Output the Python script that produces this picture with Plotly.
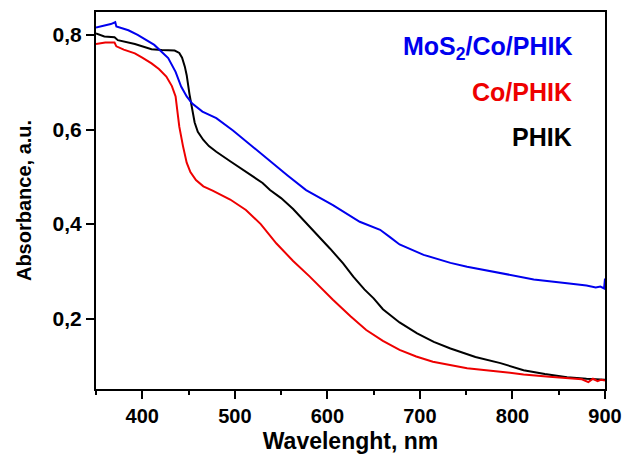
import plotly.graph_objects as go

# Wavelength (nm) / absorbance readings
mos2_x = [350, 360, 366, 370.8, 372, 385, 395, 413, 428, 436, 442, 448, 454, 465, 480, 498, 516, 538, 557, 577,
          606, 635, 647, 657, 668, 678, 704, 733, 751, 787, 823, 859, 880, 890, 895, 899, 900]
mos2_y = [0.816, 0.820, 0.823, 0.827, 0.818, 0.810, 0.800, 0.779, 0.751, 0.722, 0.691, 0.670, 0.655, 0.638, 0.624,
          0.598, 0.569, 0.532, 0.503, 0.472, 0.440, 0.405, 0.396, 0.388, 0.372, 0.357, 0.335, 0.318, 0.310, 0.296,
          0.283, 0.275, 0.270, 0.266, 0.268, 0.264, 0.285]

co_x = [350, 360, 370, 372, 380, 392, 400, 410, 418, 426, 432, 436, 438.5, 440, 444, 448, 452, 458, 466, 476, 495,
        512, 528, 545, 563, 581, 606, 625, 642, 660, 678, 696, 714, 751, 787, 812, 840, 859, 875, 882, 887, 892,
        896, 900]
co_y = [0.781, 0.784, 0.784, 0.776, 0.769, 0.761, 0.752, 0.740, 0.728, 0.712, 0.692, 0.670, 0.630, 0.606, 0.565,
        0.530, 0.510, 0.493, 0.480, 0.471, 0.452, 0.430, 0.400, 0.359, 0.322, 0.289, 0.240, 0.205, 0.176, 0.153,
        0.134, 0.120, 0.109, 0.095, 0.088, 0.082, 0.077, 0.074, 0.072, 0.066, 0.073, 0.068, 0.071, 0.069]

phik_x = [350, 359, 370, 373.6, 392, 410, 421, 435, 440, 443, 446, 448, 451, 454, 456.6, 460, 466, 472, 480, 495,
          509, 520, 530, 538, 550, 563, 575, 588, 603, 617, 628, 640, 650, 660, 678, 697, 715, 733, 760, 787, 812,
          835, 859, 880, 900]
phik_y = [0.803, 0.797, 0.795, 0.789, 0.781, 0.770, 0.768, 0.767, 0.762, 0.752, 0.733, 0.715, 0.675, 0.645, 0.615,
          0.595, 0.578, 0.565, 0.553, 0.533, 0.514, 0.500, 0.487, 0.472, 0.455, 0.432, 0.407, 0.381, 0.348, 0.317,
          0.289, 0.262, 0.243, 0.220, 0.192, 0.169, 0.151, 0.137, 0.119, 0.106, 0.091, 0.083, 0.076, 0.073, 0.071]

labels = ["MoS<sub>2</sub>/Co/PHIK", "Co/PHIK", "PHIK"]
colors = ["#0000ee", "#ee0000", "#000000"]
label_y = [0.7725, 0.6794, 0.5843]
label_x = 867

FONT = "Liberation Sans, Arial, sans-serif"

fig = go.Figure()
for xs, ys, c in [(phik_x, phik_y, colors[2]), (co_x, co_y, colors[1]), (mos2_x, mos2_y, colors[0])]:
    fig.add_trace(go.Scatter(x=xs, y=ys, mode="lines", line=dict(color=c, width=2), showlegend=False))

for lab, c, ly in zip(labels, colors, label_y):
    fig.add_annotation(x=label_x, y=ly, xref="x", yref="y", text=lab, showarrow=False,
                       xanchor="right", yanchor="middle",
                       font=dict(family=FONT, size=25, color=c, weight="bold"))

fig.update_layout(
    width=625, height=454,
    margin=dict(l=96, r=20, t=12, b=65, autoexpand=False),
    paper_bgcolor="white", plot_bgcolor="white",
    separators=", ",
    font=dict(family=FONT, color="black"),
)
fig.update_xaxes(
    automargin=False,
    range=[350, 900], dtick=100, tick0=400,
    showline=True, linecolor="black", linewidth=2, mirror=True,
    ticks="outside", ticklen=8, tickwidth=2, tickcolor="black",
    minor=dict(ticks="outside", ticklen=4, tickwidth=2, tickcolor="black", dtick=50, tick0=350),
    showgrid=False, zeroline=False,
    tickfont=dict(family=FONT, size=20, weight="bold"),
    title=dict(text="Wavelenght, nm", font=dict(family=FONT, size=23, weight="bold"), standoff=8),
)
fig.update_yaxes(
    automargin=False,
    range=[0.0513, 0.8486], tickvals=[0.2, 0.4, 0.6, 0.8], tickformat=".1f",
    showline=True, linecolor="black", linewidth=2, mirror=True,
    ticks="outside", ticklen=8, tickwidth=2, tickcolor="black",
    showgrid=False, zeroline=False,
    tickfont=dict(family=FONT, size=21, weight="bold"),
    title=dict(text="Absorbance, a.u.", font=dict(family=FONT, size=20, weight="bold"), standoff=16),
)

fig.write_html("out.html",
               config={"displayModeBar": False},
               post_script="document.body.style.margin='0';document.body.style.overflow='hidden';")
